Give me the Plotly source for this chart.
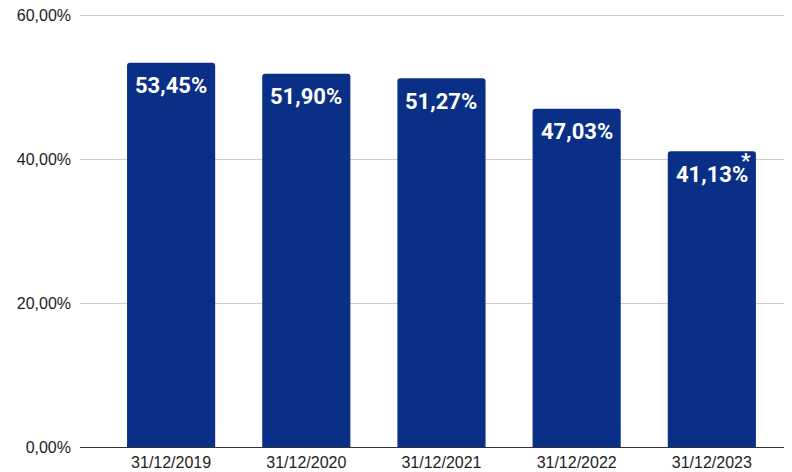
import plotly.graph_objects as go

categories = ["31/12/2019", "31/12/2020", "31/12/2021", "31/12/2022", "31/12/2023"]
values = [53.45, 51.90, 51.27, 47.03, 41.13]
labels = ["53,45%", "51,90%", "51,27%", "47,03%", "41,13%"]
marks = ["", "", "", "", "*"]
y_ticks = [0, 20, 40, 60]
y_tick_labels = ["0,00%", "20,00%", "40,00%", "60,00%"]

fig = go.Figure(go.Bar(
    x=list(range(len(categories))),
    y=values,
    marker=dict(color="#0a2f87", line=dict(width=0)),
    hoverinfo="skip",
))

for i, (v, t, m) in enumerate(zip(values, labels, marks)):
    fig.add_annotation(
        x=i, y=v, text=t, showarrow=False, yanchor="middle", yshift=-23,
        font=dict(family="Roboto", size=22, color="white", weight="bold"),
    )
    if m:
        fig.add_annotation(
            x=i, y=v, text=m, showarrow=False, yanchor="middle", yshift=-10, xshift=34,
            font=dict(family="Roboto", size=21, color="white", weight="bold"),
        )

# page body has an 8px margin, so the figure is sized 8px smaller
fig.update_layout(
    width=784, height=464,
    margin=dict(l=72, r=0, t=4, b=25),
    paper_bgcolor="white", plot_bgcolor="white",
    bargap=0.348,
    barcornerradius=3,
    showlegend=False,
    font=dict(family="Liberation Sans", size=16, color="#222222"),
)
fig.update_xaxes(
    range=[-0.674, 4.593],
    tickvals=list(range(len(categories))),
    ticktext=categories,
    showgrid=False, ticks="", showline=False, zeroline=False,
    automargin=False,
    ticklabelstandoff=4,
    ticklabeloverflow="allow",
    tickfont=dict(family="Liberation Sans", size=16, color="#222222"),
)
fig.update_yaxes(
    range=[0, 60.5],
    tickvals=y_ticks, ticktext=y_tick_labels,
    showgrid=True, gridcolor="#cccccc", gridwidth=1,
    zeroline=True, zerolinecolor="#333333", zerolinewidth=1,
    ticks="", ticklabelstandoff=8,
    automargin=False,
    ticklabeloverflow="allow",
    tickfont=dict(family="Liberation Sans", size=16, color="#222222"),
)
fig.write_html("out.html")
